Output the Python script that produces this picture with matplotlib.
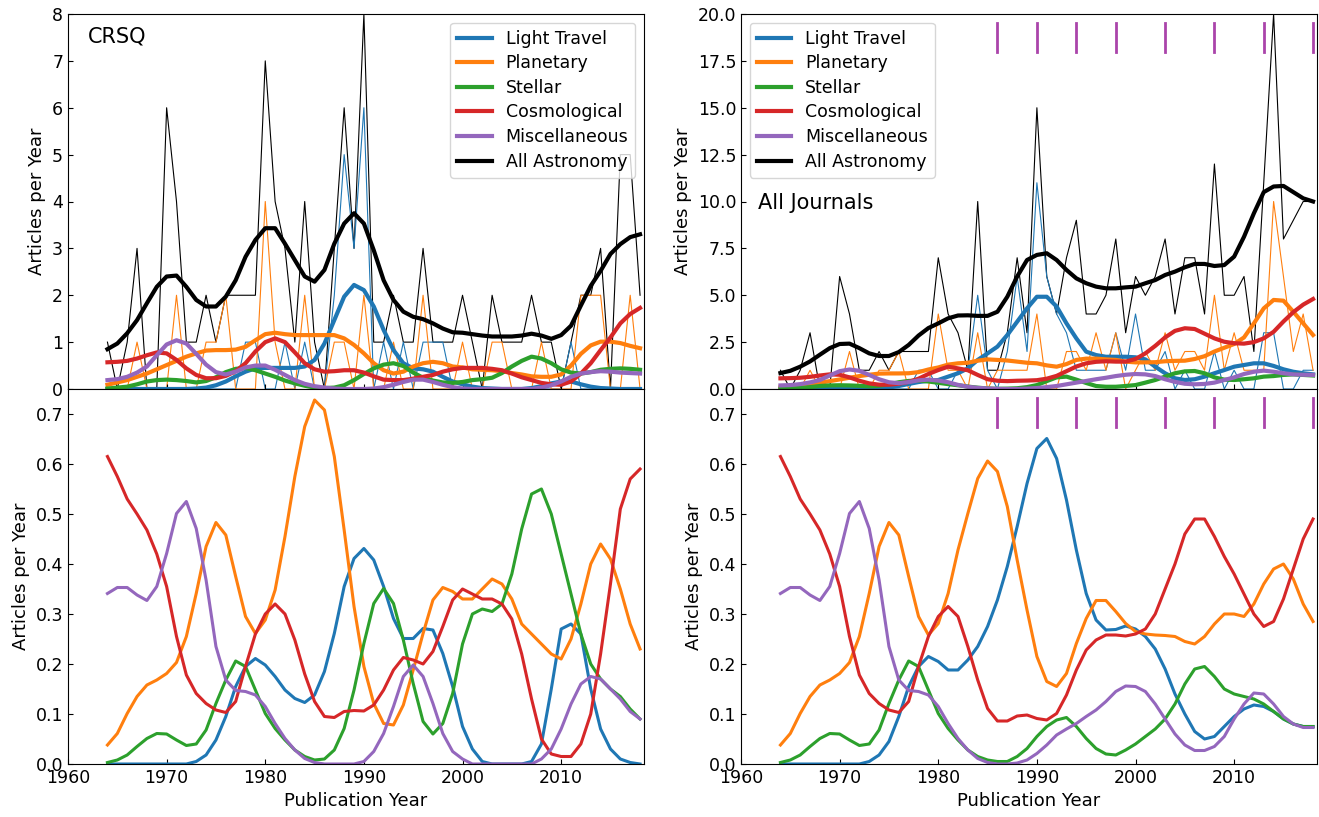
import numpy as np
import matplotlib
matplotlib.use("Agg")
import matplotlib.pyplot as plt

# ---------------------------------------------------------------------------
# data, one value per year 1964-2018
# ---------------------------------------------------------------------------
years = np.arange(1964, 2019)
icc_years = [1986, 1990, 1994, 1998, 2003, 2008, 2013, 2018]

labels = ["Light Travel", "Planetary", "Stellar", "Cosmological",
          "Miscellaneous", "All Astronomy"]

# --- CRSQ, raw yearly counts (thin lines)
crsq_total_raw = [1, 0, 1, 3, 0, 0, 6, 4, 1, 1, 2, 1, 2, 2, 2, 2,
                  7, 4, 3, 1, 4, 1, 0, 3, 6, 3, 8, 1, 1, 2, 1, 1, 3, 1, 1, 1,
                  2, 1, 0, 2, 1, 1, 1, 2, 1, 1, 0, 1, 2, 2, 3, 0, 5, 5, 2]
crsq_lt_raw = [0, 0, 0, 0, 0, 0, 0, 0, 0, 0, 0, 0, 0, 0, 1, 1,
               0, 0, 1, 0, 1, 0, 0, 2, 5, 3, 6, 0, 1, 0, 1, 0, 1, 1, 1, 0,
               0, 0, 0, 0, 0, 0, 0, 0, 0, 0, 0, 1, 0, 0, 0, 0, 0, 0, 0]
crsq_pl_raw = [0, 0, 0, 1, 0, 0, 0, 2, 0, 0, 1, 1, 2, 0, 0, 0,
               4, 1, 0, 0, 2, 0, 0, 1, 1, 0, 2, 0, 0, 1, 0, 0, 2, 0, 0, 0,
               1, 0, 0, 1, 1, 0, 0, 0, 1, 0, 0, 0, 2, 2, 2, 0, 0, 2, 0]

# --- CRSQ, smoothed (thick lines)
crsq_lt = [0, 0, 0, 0, 0, 0, 0, 0, 0, 0.01, 0.03, 0.08, 0.16, 0.27, 0.37, 0.44,
           0.45, 0.45, 0.45, 0.45, 0.48, 0.62, 0.97, 1.47, 1.97, 2.22, 2.11, 1.76,
           1.26, 0.83, 0.55, 0.44, 0.42, 0.37, 0.26, 0.16,
           0.1, 0.05, 0.02, 0.01, 0, 0, 0, 0.02, 0.06, 0.12, 0.16, 0.16, 0.1,
           0.05, 0.02, 0.01, 0, 0, 0]
crsq_pl = [0.09, 0.14, 0.19, 0.26, 0.33, 0.42, 0.51, 0.6, 0.69, 0.76, 0.82, 0.83,
           0.83, 0.84, 0.9, 1.04,
           1.17, 1.2, 1.17, 1.15, 1.15, 1.15, 1.15, 1.15, 1.08, 0.94, 0.76, 0.55,
           0.4, 0.33, 0.37, 0.48, 0.55, 0.58, 0.55, 0.48,
           0.46, 0.42, 0.41, 0.4, 0.38, 0.34, 0.31, 0.27, 0.26, 0.26, 0.31, 0.5,
           0.75, 0.93, 1.01, 1.01, 0.98, 0.92, 0.87]
crsq_st = [0.01, 0.03, 0.05, 0.1, 0.16, 0.19, 0.2, 0.19, 0.17, 0.14, 0.17, 0.25,
           0.36, 0.43, 0.45, 0.4,
           0.33, 0.26, 0.18, 0.12, 0.07, 0.03, 0.02, 0.03, 0.08, 0.19, 0.32, 0.44,
           0.52, 0.55, 0.49, 0.35, 0.24, 0.18, 0.14, 0.13,
           0.15, 0.19, 0.21, 0.24, 0.34, 0.48, 0.6, 0.69, 0.65, 0.55, 0.42, 0.35,
           0.33, 0.36, 0.41, 0.43, 0.44, 0.43, 0.41]
crsq_co = [0.57, 0.58, 0.6, 0.65, 0.72, 0.78, 0.76, 0.62, 0.44, 0.3, 0.23, 0.23,
           0.28, 0.38, 0.55, 0.8,
           1.0, 1.08, 1.0, 0.78, 0.55, 0.42, 0.37, 0.38, 0.4, 0.4, 0.35, 0.27,
           0.2, 0.19, 0.19, 0.22, 0.26, 0.3, 0.37, 0.42,
           0.45, 0.45, 0.45, 0.43, 0.4, 0.33, 0.25, 0.19, 0.13, 0.1, 0.09, 0.16,
           0.33, 0.55, 0.83, 1.1, 1.4, 1.6, 1.73]
crsq_mi = [0.19, 0.21, 0.26, 0.35, 0.48, 0.72, 0.95, 1.04, 0.97, 0.75, 0.52, 0.36,
           0.31, 0.37, 0.46, 0.5,
           0.5, 0.41, 0.3, 0.19, 0.11, 0.06, 0.03, 0.01, 0, 0, 0, 0.01,
           0.04, 0.09, 0.15, 0.2, 0.2, 0.15, 0.09, 0.04,
           0.01, 0, 0, 0, 0, 0, 0, 0, 0.03, 0.08, 0.16, 0.26,
           0.33, 0.36, 0.38, 0.37, 0.35, 0.34, 0.33]
crsq_total = [0.85, 0.97, 1.19, 1.47, 1.83, 2.18, 2.4, 2.42, 2.18, 1.9, 1.76, 1.76,
              1.97, 2.32, 2.82, 3.18,
              3.43, 3.43, 3.1, 2.75, 2.4, 2.29, 2.54, 3.1, 3.53, 3.75, 3.53, 2.96,
              2.32, 1.9, 1.65, 1.54, 1.49, 1.4, 1.29, 1.21,
              1.2, 1.17, 1.14, 1.12, 1.12, 1.12, 1.14, 1.18, 1.14, 1.07, 1.15, 1.35,
              1.78, 2.2, 2.52, 2.88, 3.09, 3.24, 3.3]

# --- All journals, raw yearly counts
aj_total_raw = [1, 0, 1, 3, 0, 0, 6, 4, 1, 1, 2, 1, 2, 2, 2, 2,
                7, 4, 3, 1, 10, 1, 1, 3, 7, 3, 15, 6, 4, 7, 9, 4, 4, 5, 8, 3,
                6, 5, 6, 8, 4, 7, 7, 4, 12, 5, 5, 6, 2, 11, 20, 8, 9, 10, 10]
aj_lt_raw = [0, 0, 0, 0, 0, 0, 0, 0, 0, 0, 0, 0, 0, 0, 1, 1,
             0, 0, 1, 1, 5, 1, 0, 2, 6, 2, 11, 6, 4, 3, 1, 1, 1, 1, 3, 1,
             4, 1, 1, 2, 0, 1, 0, 0, 2, 0, 1, 0, 0, 3, 3, 0, 0, 1, 1]
aj_pl_raw = [0, 0, 0, 1, 0, 0, 0, 2, 0, 0, 1, 1, 2, 0, 0, 0,
             4, 1, 1, 0, 3, 0, 1, 1, 1, 1, 4, 0, 0, 2, 2, 1, 3, 1, 3, 0,
             1, 2, 1, 3, 1, 2, 2, 1, 5, 1, 3, 1, 1, 1, 10, 6, 2, 4, 1]

# --- All journals, smoothed
aj_lt = [0, 0, 0, 0, 0, 0, 0, 0, 0, 0.01, 0.03, 0.08, 0.16, 0.27, 0.37, 0.44,
         0.48, 0.66, 0.84, 1.1, 1.55, 1.9, 2.26, 2.88, 3.59, 4.3, 4.92, 4.92,
         4.4, 3.5, 2.7, 1.99, 1.81, 1.72, 1.72, 1.72,
         1.69, 1.58, 1.19, 0.84, 0.57, 0.48, 0.52, 0.66, 0.84, 1.01, 1.19, 1.28,
         1.37, 1.37, 1.23, 1.05, 0.92, 0.84, 0.78]
aj_pl = [0.09, 0.14, 0.19, 0.26, 0.33, 0.42, 0.51, 0.6, 0.69, 0.76, 0.82, 0.83,
         0.83, 0.84, 0.9, 1.04,
         1.15, 1.3, 1.37, 1.4, 1.51, 1.58, 1.55, 1.52, 1.46, 1.4, 1.37, 1.26,
         1.19, 1.33, 1.55, 1.62, 1.62, 1.58, 1.55, 1.46,
         1.42, 1.42, 1.43, 1.48, 1.5, 1.51, 1.6, 1.75, 2.0, 2.2, 2.4, 2.75,
         3.5, 4.3, 4.75, 4.71, 4.12, 3.5, 2.88]
aj_st = [0.01, 0.03, 0.05, 0.1, 0.16, 0.19, 0.2, 0.19, 0.17, 0.14, 0.17, 0.25,
         0.36, 0.43, 0.45, 0.4,
         0.33, 0.26, 0.2, 0.13, 0.07, 0.03, 0.01, 0.02, 0.04, 0.1, 0.21, 0.42,
         0.62, 0.66, 0.5, 0.32, 0.16, 0.12, 0.12, 0.16,
         0.21, 0.34, 0.48, 0.66, 0.84, 0.94, 0.96, 0.84, 0.62, 0.5, 0.48, 0.52,
         0.57, 0.66, 0.69, 0.75, 0.78, 0.75, 0.72]
aj_co = [0.57, 0.58, 0.6, 0.65, 0.72, 0.78, 0.76, 0.62, 0.44, 0.3, 0.23, 0.23,
         0.28, 0.38, 0.55, 0.8,
         1.01, 1.19, 1.1, 1.0, 0.75, 0.52, 0.44, 0.42, 0.44, 0.45, 0.47, 0.55,
         0.7, 0.95, 1.2, 1.37, 1.45, 1.48, 1.46, 1.46,
         1.6, 1.9, 2.3, 2.75, 3.1, 3.24, 3.2, 2.95, 2.7, 2.52, 2.44, 2.42,
         2.5, 2.7, 3.05, 3.6, 4.1, 4.5, 4.8]
aj_mi = [0.19, 0.21, 0.26, 0.35, 0.48, 0.72, 0.95, 1.04, 0.97, 0.75, 0.52, 0.36,
         0.31, 0.37, 0.46, 0.5,
         0.45, 0.36, 0.22, 0.12, 0.06, 0.03, 0.01, 0, 0, 0.02, 0.05, 0.1,
         0.16, 0.25, 0.34, 0.43, 0.52, 0.6, 0.69, 0.76,
         0.8, 0.78, 0.69, 0.52, 0.38, 0.28, 0.25, 0.27, 0.34, 0.48, 0.62, 0.8,
         0.92, 0.98, 0.92, 0.84, 0.78, 0.76, 0.75]
aj_total = [0.85, 0.97, 1.19, 1.47, 1.83, 2.18, 2.4, 2.42, 2.18, 1.9, 1.76, 1.76,
            1.97, 2.35, 2.85, 3.25,
            3.5, 3.77, 3.92, 3.93, 3.9, 3.9, 4.12, 4.92, 6.0, 6.88, 7.15, 7.24,
            6.88, 6.35, 5.9, 5.64, 5.46, 5.37, 5.37, 5.42,
            5.46, 5.64, 5.81, 6.08, 6.26, 6.49, 6.67, 6.67, 6.56, 6.61, 7.06, 8.12,
            9.37, 10.5, 10.8, 10.83, 10.5, 10.17, 10.0]

# --- fraction of astronomy articles, CRSQ
frac_crsq_lt = [0, 0, 0, 0, 0, 0, 0, 0, 0, 0.005, 0.018, 0.048, 0.095, 0.155, 0.195,
                0.211, 0.198, 0.175, 0.148, 0.131, 0.123, 0.138, 0.185, 0.261, 0.355,
                0.411, 0.431, 0.408, 0.355, 0.291, 0.251, 0.251, 0.271, 0.268, 0.221,
                0.155, 0.075, 0.03, 0.005, 0, 0, 0, 0, 0.005, 0.04, 0.15, 0.27, 0.28,
                0.26, 0.15, 0.07, 0.03, 0.01, 0.003, 0]
frac_crsq_pl = [0.038, 0.061, 0.101, 0.135, 0.158, 0.168, 0.181, 0.203, 0.255, 0.341,
                0.435, 0.483, 0.458, 0.375, 0.295, 0.261, 0.288, 0.348, 0.455, 0.575,
                0.675, 0.728, 0.708, 0.615, 0.468, 0.315, 0.195, 0.121, 0.081, 0.078,
                0.118, 0.188, 0.261, 0.328, 0.353, 0.345, 0.33, 0.33, 0.35, 0.37,
                0.36, 0.33, 0.28, 0.26, 0.24, 0.22, 0.21, 0.25, 0.32, 0.4, 0.44,
                0.41, 0.35, 0.28, 0.23]
frac_crsq_st = [0.003, 0.008, 0.018, 0.035, 0.051, 0.061, 0.06, 0.048, 0.037, 0.04,
                0.068, 0.121, 0.168, 0.206, 0.195, 0.148, 0.101, 0.071, 0.048, 0.028,
                0.015, 0.008, 0.01, 0.028, 0.071, 0.148, 0.241, 0.321, 0.351, 0.321,
                0.248, 0.161, 0.085, 0.06, 0.081, 0.141, 0.24, 0.3, 0.31, 0.305,
                0.32, 0.38, 0.47, 0.54, 0.55, 0.5, 0.42, 0.34, 0.26, 0.2, 0.17,
                0.15, 0.135, 0.11, 0.09]
frac_crsq_co = [0.615, 0.575, 0.53, 0.5, 0.468, 0.42, 0.355, 0.255, 0.178, 0.141,
                0.121, 0.108, 0.103, 0.125, 0.195, 0.26, 0.3, 0.32, 0.3, 0.248,
                0.18, 0.125, 0.095, 0.093, 0.105, 0.107, 0.106, 0.118, 0.148, 0.188,
                0.213, 0.208, 0.2, 0.225, 0.275, 0.328, 0.35, 0.34, 0.33, 0.33,
                0.32, 0.29, 0.22, 0.13, 0.05, 0.02, 0.015, 0.015, 0.04, 0.1, 0.22,
                0.36, 0.51, 0.57, 0.59]
frac_crsq_mi = [0.341, 0.353, 0.353, 0.338, 0.327, 0.355, 0.421, 0.501, 0.525, 0.471,
                0.368, 0.235, 0.168, 0.147, 0.145, 0.138, 0.115, 0.081, 0.051, 0.028,
                0.011, 0.003, 0, 0, 0, 0, 0.005, 0.025, 0.061, 0.115,
                0.175, 0.198, 0.175, 0.121, 0.061, 0.025, 0.01, 0, 0, 0,
                0, 0, 0, 0, 0.01, 0.03, 0.07, 0.12, 0.16, 0.175, 0.17,
                0.15, 0.13, 0.105, 0.09]

# --- fraction of astronomy articles, all journals
frac_aj_lt = [0, 0, 0, 0, 0, 0, 0, 0, 0, 0.005, 0.018, 0.045, 0.095, 0.155, 0.195,
              0.215, 0.205, 0.188, 0.188, 0.208, 0.235, 0.275, 0.328, 0.395, 0.475,
              0.561, 0.631, 0.651, 0.611, 0.528, 0.428, 0.341, 0.288, 0.268, 0.269,
              0.276, 0.27, 0.255, 0.23, 0.19, 0.14, 0.1, 0.065, 0.05, 0.055, 0.075,
              0.095, 0.11, 0.118, 0.115, 0.105, 0.09, 0.08, 0.075, 0.075]
frac_aj_pl = [0.038, 0.061, 0.101, 0.135, 0.158, 0.168, 0.181, 0.203, 0.255, 0.341,
              0.435, 0.483, 0.458, 0.375, 0.295, 0.258, 0.281, 0.341, 0.428, 0.501,
              0.571, 0.606, 0.585, 0.515, 0.408, 0.308, 0.215, 0.165, 0.155, 0.181,
              0.241, 0.291, 0.327, 0.327, 0.305, 0.281, 0.265, 0.26, 0.258, 0.257,
              0.255, 0.245, 0.24, 0.255, 0.28, 0.3, 0.3, 0.295, 0.32, 0.36, 0.39,
              0.4, 0.37, 0.32, 0.285]
frac_aj_st = [0.003, 0.008, 0.018, 0.035, 0.051, 0.061, 0.06, 0.048, 0.037, 0.04,
              0.068, 0.121, 0.168, 0.206, 0.195, 0.148, 0.101, 0.071, 0.048, 0.028,
              0.015, 0.008, 0.005, 0.005, 0.015, 0.031, 0.055, 0.075, 0.088, 0.093,
              0.075, 0.051, 0.031, 0.02, 0.018, 0.028, 0.04, 0.055, 0.07, 0.09,
              0.12, 0.16, 0.19, 0.195, 0.175, 0.15, 0.14, 0.135, 0.13, 0.12, 0.105,
              0.09, 0.08, 0.075, 0.075]
frac_aj_co = [0.615, 0.575, 0.53, 0.5, 0.468, 0.42, 0.355, 0.255, 0.178, 0.141,
              0.121, 0.108, 0.103, 0.125, 0.195, 0.255, 0.295, 0.315, 0.295, 0.235,
              0.168, 0.111, 0.086, 0.086, 0.096, 0.098, 0.091, 0.088, 0.101, 0.138,
              0.188, 0.228, 0.248, 0.258, 0.258, 0.256, 0.26, 0.27, 0.3, 0.35,
              0.4, 0.46, 0.49, 0.49, 0.455, 0.415, 0.38, 0.34, 0.3, 0.275, 0.285,
              0.33, 0.39, 0.45, 0.49]
frac_aj_mi = [0.341, 0.353, 0.353, 0.338, 0.327, 0.355, 0.421, 0.501, 0.525, 0.471,
              0.368, 0.235, 0.168, 0.147, 0.145, 0.138, 0.115, 0.081, 0.051, 0.028,
              0.011, 0.003, 0, 0, 0.002, 0.008, 0.021, 0.038, 0.058, 0.07,
              0.081, 0.095, 0.108, 0.125, 0.145, 0.156, 0.155, 0.145, 0.12, 0.09,
              0.06, 0.038, 0.027, 0.027, 0.035, 0.055, 0.09, 0.12, 0.142, 0.14, 0.12,
              0.095, 0.08, 0.073, 0.073]

colors = ["C0", "C1", "C2", "C3", "C4", "k"]


def draw_counts(ax, raw, smooth):
    # thin raw yearly counts (total, light travel, planetary)
    for series, c in zip(raw, ["k", "C0", "C1"]):
        ax.plot(years, series, color=c, lw=0.8, zorder=1)
    for series, c, lab in zip(smooth, colors, labels):
        ax.plot(years, series, color=c, lw=3, label=lab, zorder=2)


def draw_fractions(ax, fracs):
    for series, c in zip(fracs, colors):
        ax.plot(years, series, color=c, lw=2.2)


fig = plt.figure(figsize=(13.19, 8.17), dpi=100)
W, H = 1319, 817
col_left = [68, 741]
col_w = 576
ax_tl = fig.add_axes([col_left[0] / W, 1 - 389 / H, col_w / W, 375 / H])
ax_bl = fig.add_axes([col_left[0] / W, 1 - 764 / H, col_w / W, 375 / H])
ax_tr = fig.add_axes([col_left[1] / W, 1 - 389 / H, col_w / W, 375 / H])
ax_br = fig.add_axes([col_left[1] / W, 1 - 764 / H, col_w / W, 375 / H])

draw_counts(ax_tl, [crsq_total_raw, crsq_lt_raw, crsq_pl_raw],
            [crsq_lt, crsq_pl, crsq_st, crsq_co, crsq_mi, crsq_total])
draw_counts(ax_tr, [aj_total_raw, aj_lt_raw, aj_pl_raw],
            [aj_lt, aj_pl, aj_st, aj_co, aj_mi, aj_total])
draw_fractions(ax_bl, [frac_crsq_lt, frac_crsq_pl, frac_crsq_st,
                       frac_crsq_co, frac_crsq_mi])
draw_fractions(ax_br, [frac_aj_lt, frac_aj_pl, frac_aj_st,
                       frac_aj_co, frac_aj_mi])

# ICC conference years
for ax in (ax_tr, ax_br):
    for y in icc_years:
        ax.axvline(y, ymin=0.9, ymax=0.975, color="#aa44aa", lw=2)

fs = 12.5
ax_tl.set_ylim(0, 8)
ax_tr.set_ylim(0, 20)
for ax in (ax_bl, ax_br):
    ax.set_ylim(0, 0.75)
    ax.set_yticks(np.arange(0, 0.71, 0.1))
    ax.set_xlabel("Publication Year", fontsize=13)

for ax in (ax_tl, ax_tr, ax_bl, ax_br):
    ax.set_xlim(1960, 2018.4)
    ax.set_xticks([1960, 1970, 1980, 1990, 2000, 2010])
    ax.tick_params(direction="in", labelsize=fs, top=False, right=False)
    ax.set_ylabel("Articles per Year", fontsize=13)

for ax in (ax_tl, ax_tr):
    ax.tick_params(labelbottom=False)

ax_tl.legend(loc="upper right", fontsize=12.5, labelspacing=0.38)
ax_tr.legend(loc="upper left", fontsize=12.5, labelspacing=0.38)
ax_tl.text(0.035, 0.925, "CRSQ", transform=ax_tl.transAxes, fontsize=15)
ax_tr.text(0.03, 0.479, "All Journals", transform=ax_tr.transAxes, fontsize=15)

fig.savefig("out.png", dpi=100)
